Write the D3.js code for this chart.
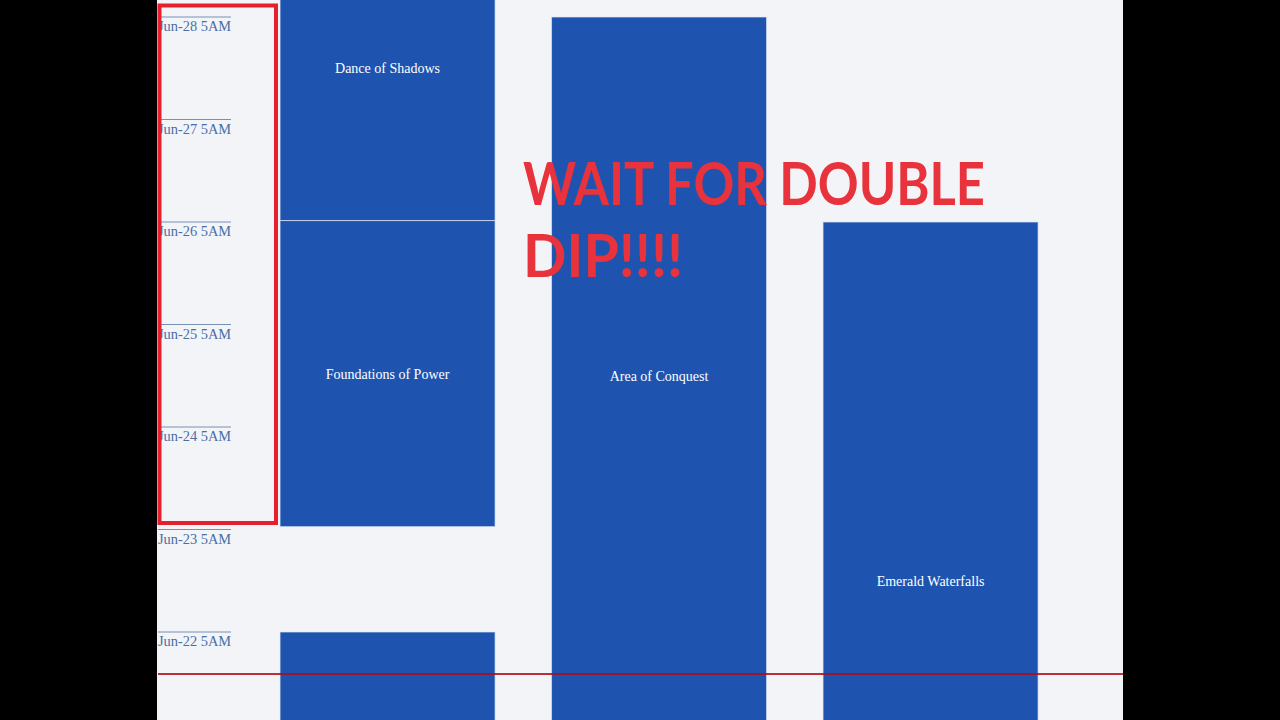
<!DOCTYPE html>
<html>
<head>
<meta charset="utf-8">
<script src="https://cdn.jsdelivr.net/npm/d3@7"></script>
<style>
  html, body { margin: 0; padding: 0; background: #000; }
  svg { display: block; }
</style>
</head>
<body>
<svg id="chart" width="1280" height="720"></svg>
<script>
// ---- data ----
const lanes = ["lane1", "lane2", "lane3"];
const eventNames = ["Dance of Shadows", "Foundations of Power", "", "Area of Conquest", "Emerald Waterfalls"];
const eventLanes = ["lane1", "lane1", "lane1", "lane2", "lane3"];
const eventStarts = ["2020-06-26T05:20", "2020-06-23T05:40", "2020-06-19T05:00", "2020-06-21T05:00", "2020-06-19T05:00"];
const eventEnds   = ["2020-06-29T05:00", "2020-06-26T05:20", "2020-06-22T05:00", "2020-06-28T05:00", "2020-06-26T05:00"];
const tickTimes = ["2020-06-22T05:00", "2020-06-23T05:00", "2020-06-24T05:00", "2020-06-25T05:00",
                   "2020-06-26T05:00", "2020-06-27T05:00", "2020-06-28T05:00"];
const nowTime = "2020-06-21T19:10";
const annotationLines = ["WAIT FOR DOUBLE", "DIP!!!!"];

// ---- setup ----
const parse = d3.timeParse("%Y-%m-%dT%H:%M");
const svg = d3.select("#chart");
const W = 1280, H = 720;
const panelX0 = 157, panelX1 = 1123;

svg.append("rect").attr("x", 0).attr("y", 0).attr("width", W).attr("height", H).attr("fill", "#000");
svg.append("rect").attr("x", panelX0).attr("y", 0).attr("width", panelX1 - panelX0).attr("height", H).attr("fill", "#f3f4f8");

const y = d3.scaleTime()
  .domain([parse(tickTimes[0]), parse(tickTimes[tickTimes.length - 1])])
  .range([632, 17]);

const x = d3.scaleBand()
  .domain(lanes)
  .range([251.8, 1066.3])
  .paddingInner(0.208)
  .paddingOuter(0.104);

const events = eventNames.map((n, i) => ({
  name: n, lane: eventLanes[i], start: parse(eventStarts[i]), end: parse(eventEnds[i])
}));

const plot = svg.append("g");

// bars
plot.selectAll("rect.bar").data(events).join("rect")
  .attr("class", "bar")
  .attr("x", d => x(d.lane))
  .attr("width", x.bandwidth())
  .attr("y", d => y(d.end))
  .attr("height", d => y(d.start) - y(d.end))
  .attr("fill", "#1e54b0")
  .attr("stroke", "#dfe6f2")
  .attr("stroke-opacity", 0.7)
  .attr("stroke-width", 1);

// bar labels
plot.selectAll("text.lbl").data(events.filter(d => d.name)).join("text")
  .attr("class", "lbl")
  .attr("x", d => x(d.lane) + x.bandwidth() / 2)
  .attr("y", d => (y(d.start) + y(d.end)) / 2 + 5)
  .attr("text-anchor", "middle")
  .attr("fill", "#ffffff")
  .attr("font-family", "'Liberation Serif', 'Times New Roman', serif")
  .attr("font-size", 14)
  .text(d => d.name);

// y axis ticks (line above label)
const fmt = d3.timeFormat("%b-%d %-I%p");
const axis = svg.append("g");
const ticks = tickTimes.map(parse);
axis.selectAll("line.tick").data(ticks).join("line")
  .attr("class", "tick")
  .attr("x1", panelX0 + 1).attr("x2", 231)
  .attr("y1", d => y(d)).attr("y2", d => y(d))
  .attr("stroke", "#7890b4").attr("stroke-width", 1);
axis.selectAll("text.tick").data(ticks).join("text")
  .attr("class", "tick")
  .attr("x", panelX0 + 1)
  .attr("y", d => y(d) + 14)
  .attr("fill", "#4a6ea4")
  .attr("font-family", "'Liberation Serif', 'Times New Roman', serif")
  .attr("font-size", 14.4)
  .text(d => fmt(d));

// now marker
svg.append("line")
  .attr("x1", panelX0 + 1).attr("x2", panelX1)
  .attr("y1", y(parse(nowTime))).attr("y2", y(parse(nowTime)))
  .attr("stroke", "#b00c18").attr("stroke-opacity", 0.85).attr("stroke-width", 2);

// annotation overlay
svg.append("rect")
  .attr("x", 159.5).attr("y", 5.5).attr("width", 116.5).attr("height", 517.5)
  .attr("fill", "none").attr("stroke", "#e3202b").attr("stroke-width", 4);

const noteWidths = [462, 160];
svg.selectAll("text.note").data(annotationLines).join("text")
  .attr("class", "note")
  .attr("x", 523)
  .attr("y", (d, i) => 205 + i * 72)
  .attr("fill", "#e8323c")
  .attr("font-family", "Lato, 'Open Sans', sans-serif")
  .attr("font-weight", "bold")
  .attr("font-size", 60)
  .attr("textLength", (d, i) => noteWidths[i])
  .attr("lengthAdjust", "spacingAndGlyphs")
  .text(d => d);
</script>
</body>
</html>
